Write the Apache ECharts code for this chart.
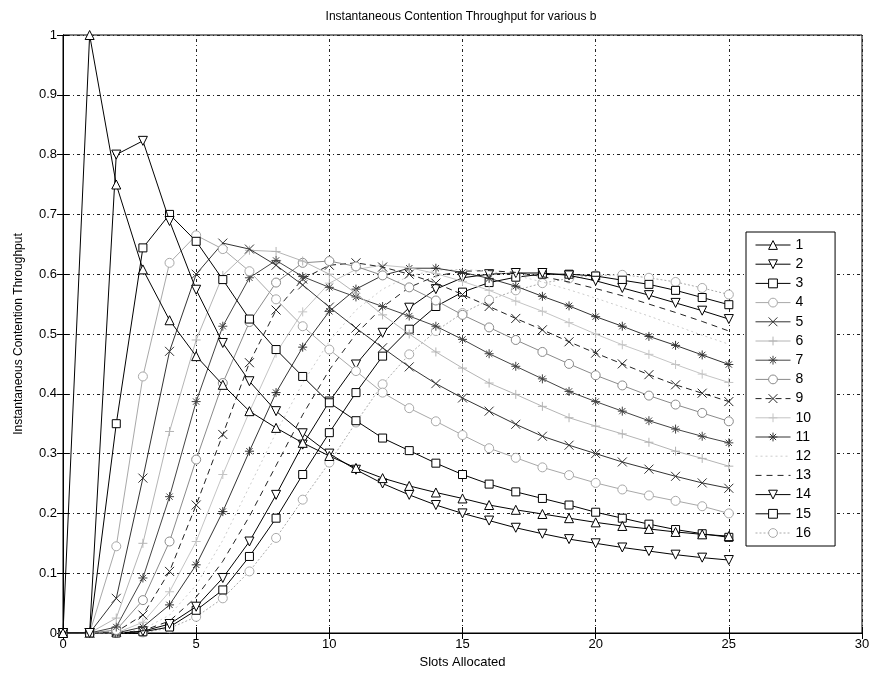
<!DOCTYPE html>
<html>
<head>
<meta charset="utf-8">
<script src="https://cdn.jsdelivr.net/npm/echarts@6/dist/echarts.min.js"></script>
<style>
  html, body { margin: 0; padding: 0; background: #fff; }
  #chart { width: 877px; height: 681px; }
</style>
</head>
<body>
<div id="chart"></div>
<script>
// Slots allocated (x positions of every sample)
const slots = [0,1,2,3,4,5,6,7,8,9,10,11,12,13,14,15,16,17,18,19,20,21,22,23,24,25];

// Instantaneous contention throughput, one array per b
const b1  = [0, 1.0, 0.75, 0.608, 0.523, 0.463, 0.415, 0.371, 0.343, 0.318, 0.296, 0.276, 0.259, 0.246, 0.235, 0.225, 0.214, 0.206, 0.199, 0.192, 0.185, 0.179, 0.174, 0.169, 0.165, 0.162];
const b2  = [0, 0, 0.80, 0.823, 0.689, 0.574, 0.485, 0.421, 0.371, 0.334, 0.300, 0.273, 0.250, 0.231, 0.214, 0.200, 0.188, 0.176, 0.166, 0.157, 0.150, 0.143, 0.137, 0.131, 0.126, 0.122];
const b3  = [0, 0, 0.35, 0.644, 0.70, 0.655, 0.591, 0.525, 0.474, 0.429, 0.385, 0.355, 0.326, 0.305, 0.284, 0.265, 0.249, 0.236, 0.225, 0.214, 0.202, 0.192, 0.182, 0.173, 0.166, 0.160];
const b4  = [0, 0, 0.145, 0.429, 0.619, 0.665, 0.642, 0.605, 0.558, 0.513, 0.474, 0.438, 0.402, 0.376, 0.354, 0.331, 0.309, 0.293, 0.277, 0.264, 0.251, 0.240, 0.230, 0.221, 0.212, 0.200];
const b5  = [0, 0, 0.058, 0.259, 0.471, 0.600, 0.652, 0.642, 0.615, 0.582, 0.545, 0.510, 0.477, 0.445, 0.417, 0.393, 0.371, 0.349, 0.329, 0.314, 0.300, 0.286, 0.274, 0.262, 0.251, 0.242];
const b6  = [0, 0, 0.025, 0.150, 0.337, 0.490, 0.598, 0.640, 0.638, 0.622, 0.600, 0.568, 0.532, 0.500, 0.470, 0.443, 0.418, 0.399, 0.379, 0.360, 0.346, 0.333, 0.319, 0.304, 0.292, 0.279];
const b7  = [0, 0, 0.010, 0.092, 0.228, 0.387, 0.513, 0.594, 0.623, 0.596, 0.578, 0.562, 0.546, 0.530, 0.513, 0.491, 0.467, 0.446, 0.425, 0.404, 0.387, 0.371, 0.355, 0.341, 0.329, 0.318];
const b8  = [0, 0, 0.005, 0.055, 0.153, 0.290, 0.418, 0.520, 0.586, 0.619, 0.622, 0.613, 0.598, 0.578, 0.556, 0.532, 0.511, 0.490, 0.470, 0.450, 0.431, 0.414, 0.397, 0.382, 0.368, 0.354];
const b9  = [0, 0, 0.002, 0.030, 0.103, 0.214, 0.332, 0.452, 0.540, 0.592, 0.615, 0.619, 0.612, 0.600, 0.585, 0.566, 0.546, 0.526, 0.507, 0.487, 0.468, 0.450, 0.432, 0.415, 0.401, 0.387];
const b10 = [0, 0, 0, 0.018, 0.069, 0.153, 0.265, 0.370, 0.468, 0.537, 0.585, 0.608, 0.615, 0.611, 0.601, 0.588, 0.573, 0.555, 0.538, 0.519, 0.500, 0.482, 0.466, 0.449, 0.433, 0.419];
const b11 = [0, 0, 0, 0.010, 0.047, 0.114, 0.203, 0.304, 0.402, 0.478, 0.538, 0.575, 0.598, 0.610, 0.610, 0.603, 0.593, 0.580, 0.563, 0.547, 0.529, 0.513, 0.496, 0.481, 0.465, 0.449];
const b12 = [0, 0, 0, 0.006, 0.030, 0.080, 0.155, 0.245, 0.335, 0.418, 0.488, 0.540, 0.575, 0.597, 0.607, 0.608, 0.605, 0.598, 0.587, 0.574, 0.560, 0.545, 0.530, 0.514, 0.498, 0.483];
const b13 = [0, 0, 0, 0.004, 0.020, 0.060, 0.120, 0.195, 0.280, 0.365, 0.440, 0.500, 0.545, 0.578, 0.597, 0.605, 0.606, 0.603, 0.596, 0.587, 0.576, 0.564, 0.550, 0.536, 0.521, 0.505];
const b14 = [0, 0, 0, 0.003, 0.015, 0.044, 0.092, 0.153, 0.231, 0.315, 0.387, 0.449, 0.502, 0.544, 0.575, 0.594, 0.600, 0.602, 0.602, 0.598, 0.589, 0.577, 0.565, 0.552, 0.539, 0.525];
const b15 = [0, 0, 0, 0.002, 0.010, 0.038, 0.072, 0.128, 0.192, 0.265, 0.335, 0.402, 0.463, 0.508, 0.546, 0.570, 0.586, 0.595, 0.600, 0.600, 0.597, 0.590, 0.583, 0.573, 0.561, 0.549];
const b16 = [0, 0, 0, 0.001, 0.008, 0.027, 0.058, 0.103, 0.159, 0.223, 0.285, 0.352, 0.416, 0.466, 0.505, 0.535, 0.557, 0.573, 0.585, 0.593, 0.598, 0.599, 0.594, 0.587, 0.577, 0.566];

const seriesValues = [b1, b2, b3, b4, b5, b6, b7, b8, b9, b10, b11, b12, b13, b14, b15, b16];
const seriesNames = ['1','2','3','4','5','6','7','8','9','10','11','12','13','14','15','16'];

// Axis ticks
const xTicks = [0, 5, 10, 15, 20, 25, 30];
const yTicks = [0, 0.1, 0.2, 0.3, 0.4, 0.5, 0.6, 0.7, 0.8, 0.9, 1];

// Marker shapes (stroked outlines)
const MK = {
  up:    { symbol: 'triangle', rotate: 0 },
  down:  { symbol: 'triangle', rotate: 180 },
  sq:    { symbol: 'rect', rotate: 0 },
  circ:  { symbol: 'circle', rotate: 0 },
  x:     { symbol: 'path://M0,0L10,10M10,0L0,10', rotate: 0 },
  plus:  { symbol: 'path://M5,0L5,10M0,5L10,5', rotate: 0 },
  star:  { symbol: 'path://M5,0L5,10M0,5L10,5M1.5,1.5L8.5,8.5M8.5,1.5L1.5,8.5', rotate: 0 },
  none:  { symbol: 'none', rotate: 0 }
};

// Per-series drawing style
const styles = [
  { mk: 'up',   color: '#000000', type: 'solid' },
  { mk: 'down', color: '#000000', type: 'solid' },
  { mk: 'sq',   color: '#000000', type: 'solid' },
  { mk: 'circ', color: '#a8a8a8', type: 'solid' },
  { mk: 'x',    color: '#333333', type: 'solid' },
  { mk: 'plus', color: '#b4b4b4', type: 'solid' },
  { mk: 'star', color: '#444444', type: 'solid' },
  { mk: 'circ', color: '#8a8a8a', type: 'solid' },
  { mk: 'x',    color: '#222222', type: [6, 4] },
  { mk: 'plus', color: '#c4c4c4', type: 'solid' },
  { mk: 'star', color: '#333333', type: 'solid' },
  { mk: 'none', color: '#cccccc', type: [2, 3] },
  { mk: 'none', color: '#222222', type: [6, 5] },
  { mk: 'down', color: '#000000', type: 'solid' },
  { mk: 'sq',   color: '#000000', type: 'solid' },
  { mk: 'circ', color: '#aaaaaa', type: [2, 2] }
];

const isHollow = mk => (mk === 'up' || mk === 'down' || mk === 'sq' || mk === 'circ');

const series = seriesValues.map((vals, i) => {
  const st = styles[i];
  const m = MK[st.mk];
  return {
    name: seriesNames[i],
    type: 'line',
    xAxisIndex: 0,
    yAxisIndex: 0,
    data: slots.map((s, k) => [s, vals[k]]),
    symbol: m.symbol,
    symbolRotate: m.rotate,
    symbolSize: st.mk === 'sq' ? 8 : 9,
    showAllSymbol: true,
    lineStyle: { color: st.color, width: 1, type: st.type },
    itemStyle: {
      color: isHollow(st.mk) ? '#ffffff' : 'rgba(0,0,0,0)',
      borderColor: st.color,
      borderWidth: 1
    },
    emphasis: { disabled: true },
    animation: false,
    z: 2 + (16 - i) * 0.01
  };
});

// Legend entries: series without markers get an invisible legend symbol
const legendData = seriesNames.map((n, i) => styles[i].mk === 'none'
  ? { name: n, itemStyle: { color: 'rgba(0,0,0,0)', borderColor: 'rgba(0,0,0,0)' } }
  : { name: n });

const font = 'Liberation Sans, Arial, Helvetica, sans-serif';
const gridLine = { show: true, lineStyle: { color: '#222', width: 1, type: [1, 3, 3, 3] } };

const chart = echarts.init(document.getElementById('chart'), null, { renderer: 'canvas' });
chart.setOption({
  backgroundColor: '#ffffff',
  animation: false,
  title: {
    text: 'Instantaneous Contention Throughput for various b',
    left: 456, top: 6, textAlign: 'center',
    textStyle: { fontFamily: font, fontSize: 12, fontWeight: 'normal', color: '#000' }
  },
  grid: { left: 63, right: 15, top: 35, bottom: 48, show: true, borderColor: '#000', borderWidth: 1, backgroundColor: 'transparent' },
  legend: {
    orient: 'vertical',
    left: 746, top: 232,
    padding: [6, 24, 6, 9],
    itemWidth: 35, itemHeight: 11, itemGap: 5.2,
    backgroundColor: '#ffffff',
    borderColor: '#000', borderWidth: 1, borderRadius: 0,
    lineStyle: { width: 1 },
    itemStyle: { borderWidth: 1 },
    textStyle: { fontFamily: font, fontSize: 14, color: '#000', lineHeight: 14 },
    selectedMode: false,
    data: legendData
  },
  xAxis: [
    {
      type: 'value', min: 0, max: 30, interval: 5,
      name: 'Slots Allocated', nameLocation: 'middle', nameGap: 22,
      nameTextStyle: { fontFamily: font, fontSize: 13, color: '#000' },
      axisLine: { show: true, lineStyle: { color: '#000', width: 1 } },
      axisTick: { show: true, inside: true, length: 6, lineStyle: { color: '#000' } },
      axisLabel: { fontFamily: font, fontSize: 13, color: '#000', margin: 5 },
      splitLine: gridLine
    },
    {
      type: 'value', min: 0, max: 30, interval: 5, position: 'top',
      axisLine: { show: true, lineStyle: { color: '#000', width: 1 } },
      axisTick: { show: true, inside: true, length: 6, lineStyle: { color: '#000' } },
      axisLabel: { show: false }, splitLine: { show: false }
    }
  ],
  yAxis: [
    {
      type: 'value', min: 0, max: 1, interval: 0.1,
      name: 'Instantaneous Contention Throughput', nameLocation: 'middle', nameGap: 38,
      nameTextStyle: { fontFamily: font, fontSize: 12, color: '#000' },
      axisLine: { show: true, lineStyle: { color: '#000', width: 1 } },
      axisTick: { show: true, inside: true, length: 6, lineStyle: { color: '#000' } },
      axisLabel: { fontFamily: font, fontSize: 13, color: '#000', margin: 6,
        formatter: v => { const t = yTicks.find(q => Math.abs(q - v) < 1e-9); return String(t !== undefined ? t : v); } },
      splitLine: gridLine
    },
    {
      type: 'value', min: 0, max: 1, interval: 0.1, position: 'right',
      axisLine: { show: true, lineStyle: { color: '#000', width: 1 } },
      axisTick: { show: true, inside: true, length: 6, lineStyle: { color: '#000' } },
      axisLabel: { show: false }, splitLine: { show: false }
    }
  ],
  series: series
});
</script>
</body>
</html>
